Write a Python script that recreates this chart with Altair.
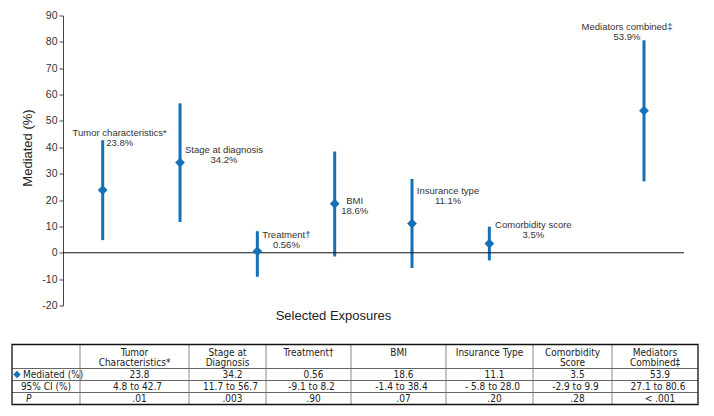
import altair as alt
import pandas as pd

# ---------------- data ----------------
exposures = ["Tumor characteristics*", "Stage at diagnosis", "Treatment\u2020", "BMI",
             "Insurance type", "Comorbidity score", "Mediators combined\u2021"]
positions = [1, 2, 3, 4, 5, 6, 8]
mediated = [23.8, 34.2, 0.56, 18.6, 11.1, 3.5, 53.9]
ci_low = [4.8, 11.7, -9.1, -1.4, -5.8, -2.9, 27.1]
ci_high = [42.7, 56.7, 8.2, 38.4, 28.0, 9.9, 80.6]
pct_labels = ["23.8%", "34.2%", "0.56%", "18.6%", "11.1%", "3.5%", "53.9%"]

table_headers = ["Tumor\nCharacteristics*", "Stage at\nDiagnosis", "Treatment\u2020", "BMI",
                 "Insurance Type", "Comorbidity\nScore", "Mediators\nCombined\u2021"]
table_mediated = ["23.8", "34.2", "0.56", "18.6", "11.1", "3.5", "53.9"]
table_ci = ["4.8 to 42.7", "11.7 to 56.7", "-9.1 to 8.2", "-1.4 to 38.4",
            "- 5.8 to 28.0", "-2.9 to 9.9", "27.1 to 80.6"]
table_p = [".01", ".003", ".90", ".07", ".20", ".28", "< .001"]
row_labels = ["Mediated (%)", "95% CI (%)", "P"]
y_ticks = list(range(-20, 91, 10))

# ---------------- layout / style ----------------
BLUE = "#1570b8"
FONT = "Liberation Sans"
TFONT = "Liberation Sans Narrow, DejaVu Sans Condensed, Liberation Sans"
W, H = 686, 290              # plot area (page x 11..697, y 15..305)
PX_PER_POS = 77.33
FIRST_POS_PX = 101.7 - 11     # pixel of position 1 inside plot
AXIS_PX = 62 - 11             # y-axis line inside plot
ZERO_END_PX = 683 - 11
x_left = 1 - FIRST_POS_PX / PX_PER_POS
x_right = x_left + W / PX_PER_POS
label_dx_px = [17, 44, 29, 20, 36, 44, -17]
label_y_val = [45.4, 38.8, 6.9, 19.5, 23.6, 10.7, 85.5]   # first label line

TW, TH = 686, 60
col_edges = [0, 68, 177, 254, 339, 434, 521, 600, 686]
row_edges = [0, 24, 36, 48, 60]

# ---------------- top chart ----------------
df = pd.DataFrame({
    "exposure": exposures, "pos": positions, "med": mediated,
    "lo": ci_low, "hi": ci_high, "pct": pct_labels,
})
df["lx"] = [p + d / PX_PER_POS for p, d in zip(positions, label_dx_px)]
df["ly"] = label_y_val
df["label"] = [f"{e}\n{p}" for e, p in zip(exposures, pct_labels)]

xs = alt.Scale(domain=[x_left, x_right], nice=False, zero=False)
ys = alt.Scale(domain=[-20, 90], nice=False, zero=False)

x_axis = alt.Axis(title="Selected Exposures", labels=False, ticks=False, domain=False,
                  grid=False, titleX=332 - 11, titleY=10, titleFontSize=13,
                  titleFontWeight="normal", titleColor="#222", titleBaseline="middle",
                  titleFont=FONT)
y_axis = alt.Axis(values=y_ticks, offset=-AXIS_PX, title="Mediated (%)", titleX=-36,
                  titleY=132, titleBaseline="middle", titleAlign="center",
                  titleFontSize=13, titleFontWeight="normal", titleColor="#222",
                  titleFont=FONT, tickSize=4, tickColor="#444", domainColor="#444",
                  labelFontSize=10.5, labelColor="#333", labelPadding=2, grid=False,
                  labelFont=FONT, labelOverlap=False, labelExpr="datum.value + ''")

bars = alt.Chart(df).mark_rule(strokeWidth=3, color=BLUE).encode(
    x=alt.X("pos:Q", scale=xs, axis=x_axis),
    y=alt.Y("lo:Q", scale=ys, axis=y_axis),
    y2="hi:Q",
)
pts = alt.Chart(df).mark_point(shape="diamond", filled=True, size=95, color=BLUE,
                               opacity=1).encode(
    x=alt.X("pos:Q", scale=xs, axis=x_axis),
    y=alt.Y("med:Q", scale=ys, axis=y_axis))
zero = alt.Chart(pd.DataFrame({"z": [0]})).mark_rule(color="#111", strokeWidth=1).encode(
    x=alt.X("a:Q", scale=xs, axis=x_axis),
    x2="b:Q",
    y=alt.Y("z:Q", scale=ys, axis=y_axis),
).transform_calculate(
    a=f"{x_left + AXIS_PX / PX_PER_POS}", b=f"{x_left + ZERO_END_PX / PX_PER_POS}")
labels = alt.Chart(df).mark_text(lineBreak="\n", fontSize=9.5, color="#333", font=FONT,
                                 baseline="middle", align="center", lineHeight=10).encode(
    x=alt.X("lx:Q", scale=xs, axis=x_axis),
    y=alt.Y("ly:Q", scale=ys, axis=y_axis), text="label:N")

top = alt.layer(bars, zero, pts, labels).properties(width=W, height=H)

# ---------------- table ----------------
centers = [(col_edges[i + 1] + col_edges[i]) / 2 for i in range(1, 8)]
row_mid = [(row_edges[i] + row_edges[i + 1]) / 2 for i in range(4)]
cells = []
for i in range(7):
    cells.append({"x": centers[i], "y": 3.5, "t": table_headers[i], "kind": "h"})
    cells.append({"x": centers[i] + 5, "y": row_mid[1], "t": table_mediated[i], "kind": "v"})
    cells.append({"x": centers[i] + 3, "y": row_mid[2], "t": table_ci[i], "kind": "v"})
    cells.append({"x": centers[i] + 5, "y": row_mid[3], "t": table_p[i], "kind": "v"})
cdf = pd.DataFrame(cells)

txs = alt.Scale(domain=[0, TW], nice=False, zero=False)
tys = alt.Scale(domain=[0, TH], nice=False, zero=False, reverse=True)

head = alt.Chart(cdf[cdf.kind == "h"]).mark_text(
    lineBreak="\n", fontSize=10, lineHeight=9.5, baseline="top", align="center",
    color="#222", font=TFONT).encode(
    x=alt.X("x:Q", scale=txs, axis=None), y=alt.Y("y:Q", scale=tys, axis=None), text="t:N")
vals = alt.Chart(cdf[cdf.kind == "v"]).mark_text(
    fontSize=10, baseline="middle", align="center", color="#222", font=TFONT).encode(
    x="x:Q", y="y:Q", text="t:N")

rl = pd.DataFrame({"x": [11, 34, 14], "y": row_mid[1:], "t": row_labels})
rl1 = alt.Chart(rl.iloc[[0]]).mark_text(fontSize=10, baseline="middle", align="left",
                                        color="#222", font=TFONT).encode(x="x:Q", y="y:Q", text="t:N")
rl2 = alt.Chart(rl.iloc[[1]]).mark_text(fontSize=10, baseline="middle", align="center",
                                        color="#222", font=TFONT).encode(x="x:Q", y="y:Q", text="t:N")
rl3 = alt.Chart(rl.iloc[[2]]).mark_text(fontSize=10, baseline="middle", align="left",
                                        fontStyle="italic", color="#222", font=TFONT).encode(
    x="x:Q", y="y:Q", text="t:N")
tdiamond = alt.Chart(pd.DataFrame({"x": [5], "y": [row_mid[1]]})).mark_point(
    shape="diamond", filled=True, size=55, color=BLUE, opacity=1).encode(x="x:Q", y="y:Q")

vlines = alt.Chart(pd.DataFrame({"x": col_edges[1:-1]})).mark_rule(
    color="#888", strokeWidth=1).encode(x="x:Q", y=alt.datum(0), y2=alt.datum(TH))
hlines = alt.Chart(pd.DataFrame({"y": row_edges[1:-1]})).mark_rule(
    color="#666", strokeWidth=1).encode(y="y:Q", x=alt.datum(0), x2=alt.datum(TW))
border = alt.Chart(pd.DataFrame({"a": [0]})).mark_rect(
    fillOpacity=0, stroke="#111", strokeWidth=1.3).encode(
    x=alt.datum(0), x2=alt.datum(TW), y=alt.datum(0), y2=alt.datum(TH))

table = alt.layer(head, vals, vlines, hlines, border, tdiamond, rl1, rl2, rl3).properties(
    width=TW, height=TH)

chart = alt.vconcat(top, table, spacing=39, bounds="flush").configure_view(
    stroke=None).properties(padding={"left": 3, "top": 2.5, "right": 5, "bottom": 3},
                            background="white")

chart.save("out.html", embed_options={"renderer": "svg", "actions": False})
